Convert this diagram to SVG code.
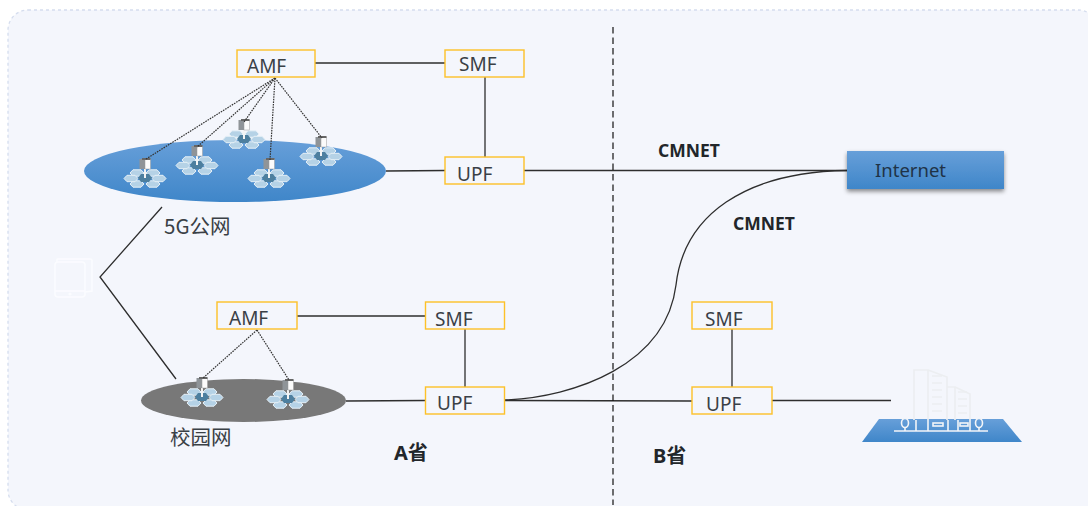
<svg xmlns="http://www.w3.org/2000/svg" xmlns:xlink="http://www.w3.org/1999/xlink" width="1088" height="506" viewBox="0 0 1088 506">
<style>
.box{fill:none;stroke:#fdc128;stroke-width:1.4}
.t{font-family:"Noto Sans","Noto Sans CJK SC",sans-serif;font-size:19px;fill:#3a4046}
.c{font-family:"Noto Sans CJK SC","Noto Sans",sans-serif;font-size:20.5px;fill:#3a4046}
.b{font-family:"Noto Sans","Noto Sans CJK SC",sans-serif;font-size:17.5px;font-weight:700;fill:#22262a}
.p{font-size:20px}
.line{fill:none;stroke:#2e2e2e;stroke-width:1.3}
.dot{fill:none;stroke:#333;stroke-width:1.2;stroke-dasharray:1.6 1}
.icon{fill:none;stroke:#fbfcff;stroke-width:1.6}
.bld{fill:none;stroke:#eceef1;stroke-width:1.7}
</style>
<defs>
<linearGradient id="blue" x1="0" y1="0" x2="0" y2="1"><stop offset="0" stop-color="#679fd9"/><stop offset="1" stop-color="#3f86c9"/></linearGradient>
<filter id="sh" x="-10%" y="-30%" width="120%" height="170%"><feDropShadow dx="0" dy="2.5" stdDeviation="2" flood-color="#000" flood-opacity=".45"/></filter>
<polygon id="hex" points="-7,0 -4,-3.2 4,-3.2 7,0 4,3.200 -4,3.200" fill="#b5d2e6" stroke="#e6f0f7" stroke-width="1"/>
<g id="bs">
<use xlink:href="#hex" x="-8" y="-5"/><use xlink:href="#hex" x="8" y="-5"/><use xlink:href="#hex" x="-8" y="6"/><use xlink:href="#hex" x="8" y="6"/><use xlink:href="#hex" x="-14" y="0.500"/><use xlink:href="#hex" x="14" y="0.500"/>
<polygon points="-7,0 -4,-4 4,-4 7,0 4,4 -4,4" fill="#4d7f9f"/>
<rect x="-1" y="-10" width="2" height="10" fill="#f4f4f4"/>
<rect x="-5.500" y="-19" width="5.500" height="10" fill="#8f9498"/><rect x="0" y="-19" width="5.500" height="10" fill="#fbfbfb" stroke="#999" stroke-width=".5"/><rect x="-3" y="-20" width="8.500" height="2" fill="#666"/>
</g>
</defs>
<rect width="1088" height="506" fill="#fff"/>
<rect id="frame" x="8" y="10" width="1090" height="500" rx="20" fill="#f4f6fc" stroke="#d5ddee" stroke-width="1.3" stroke-dasharray="3 3"/>
<g id="connectors">
<line class="line" x1="315" y1="63" x2="445" y2="63"/>
<line class="line" x1="485" y1="77" x2="485" y2="157"/>
<line class="line" x1="386" y1="171" x2="445" y2="170.500"/>
<line class="line" x1="524" y1="170.500" x2="847" y2="170.500"/>
<path class="line" d="M505 400C575 397 666 365 676 285C684 215 745 172 847 170.500"/>
<line class="line" x1="297" y1="316" x2="425" y2="316"/>
<line class="line" x1="465" y1="329" x2="465" y2="387"/>
<line class="line" x1="346" y1="401" x2="425" y2="400.500"/>
<line class="line" x1="505" y1="400.500" x2="692" y2="401"/>
<line class="line" x1="732" y1="329" x2="732" y2="387"/>
<line class="line" x1="772" y1="400.500" x2="891" y2="400.500"/>
<polyline class="line" points="162,207 100,277 176,379"/>
<line x1="613" y1="27" x2="613" y2="505" fill="none" stroke="#111" stroke-width="1.200" stroke-dasharray="6.500 4"/>
</g>
<g id="net-5g"><ellipse cx="235" cy="171" rx="151" ry="31" fill="url(#blue)"/>
<use xlink:href="#bs" x="145" y="178"/><use xlink:href="#bs" x="197" y="165"/><use xlink:href="#bs" x="244" y="139"/><use xlink:href="#bs" x="269" y="178"/><use xlink:href="#bs" x="321" y="156"/>
</g>
<g id="net-campus"><ellipse cx="243.500" cy="400.500" rx="102.500" ry="21.500" fill="#787878"/>
<use xlink:href="#bs" x="202" y="397"/><use xlink:href="#bs" x="288" y="399"/>
</g>
<g id="connectors-dotted">
<line class="dot" x1="275" y1="78" x2="146" y2="159"/>
<line class="dot" x1="275" y1="78" x2="197" y2="147"/>
<line class="dot" x1="275" y1="78" x2="244" y2="122"/>
<line class="dot" x1="275" y1="78" x2="270" y2="160"/>
<line class="dot" x1="275" y1="78" x2="322" y2="138"/>
<line class="dot" x1="257" y1="330" x2="203" y2="378"/>
<line class="dot" x1="257" y1="330" x2="289" y2="380"/>
</g>
<g id="amf1"><rect class="box" x="237" y="50" width="78" height="27"/><text class="t" x="247" y="73">AMF</text></g>
<g id="smf1"><rect class="box" x="445" y="50" width="79" height="27"/><text class="t" x="459" y="71">SMF</text></g>
<g id="upf1"><rect class="box" x="445" y="157" width="79" height="27"/><text class="t" x="457" y="181">UPF</text></g>
<g id="amf2"><rect class="box" x="217" y="302" width="80" height="27"/><text class="t" x="229" y="325">AMF</text></g>
<g id="smf2"><rect class="box" x="425.500" y="302" width="79" height="27"/><text class="t" x="435" y="326">SMF</text></g>
<g id="upf2"><rect class="box" x="425.500" y="387" width="79" height="27"/><text class="t" x="437" y="410">UPF</text></g>
<g id="smf3"><rect class="box" x="692" y="302" width="80" height="27"/><text class="t" x="705" y="326">SMF</text></g>
<g id="upf3"><rect class="box" x="692" y="387" width="80" height="27"/><text class="t" x="706" y="411">UPF</text></g>
<g id="internet"><rect x="847" y="151" width="157" height="38" fill="url(#blue)" filter="url(#sh)"/><text class="t" x="875" y="177" style="fill:#1f3347;font-size:18.500px">Internet</text></g>
<g id="terminal" class="icon"><rect x="55" y="262" width="30" height="35" rx="3"/><path d="M57 262V259.500Q57 259 58 259H90Q92 259 92 261V291L85 292"/><line x1="55" y1="291" x2="85" y2="291"/><circle cx="70" cy="294" r=".8"/></g>
<g id="campus"><polygon points="862,442 1022,442 1003,419 879,419" fill="url(#blue)"/>
<g class="bld"><path d="M914 420V370H928V420M928 370L947 377V420M947 387H955V420M955 387L970 394V420"/>
<path d="M932 376H942M932 383H942M932 390H942M932 397H942M932 404H942M932 411H942M958 392H967M958 399H967M958 406H967M958 413H967"/>
</g>
<g stroke="#f3f5f8" stroke-width="1.600" fill="none"><line x1="894" y1="431" x2="988" y2="431"/><line x1="916" y1="420" x2="916" y2="431"/><line x1="928" y1="420" x2="928" y2="431"/><line x1="948" y1="420" x2="948" y2="431"/><line x1="958" y1="420" x2="958" y2="431"/><line x1="970" y1="420" x2="970" y2="431"/><rect x="933" y="423" width="10" height="3"/><rect x="960" y="423" width="8" height="3"/><ellipse cx="905" cy="423" rx="3.500" ry="4.500"/><line x1="905" y1="427" x2="905" y2="431"/><ellipse cx="979" cy="423" rx="3.500" ry="4.500"/><line x1="979" y1="427" x2="979" y2="431"/></g>
</g>
<g id="labels">
<text class="c" x="164" y="234">5G公网</text>
<text class="c" x="170" y="445">校园网</text>
<text class="b" x="658" y="157">CMNET</text>
<text class="b" x="733" y="230">CMNET</text>
<text class="b p" x="394" y="460">A省</text>
<text class="b p" x="653" y="463">B省</text>
</g>
</svg>
